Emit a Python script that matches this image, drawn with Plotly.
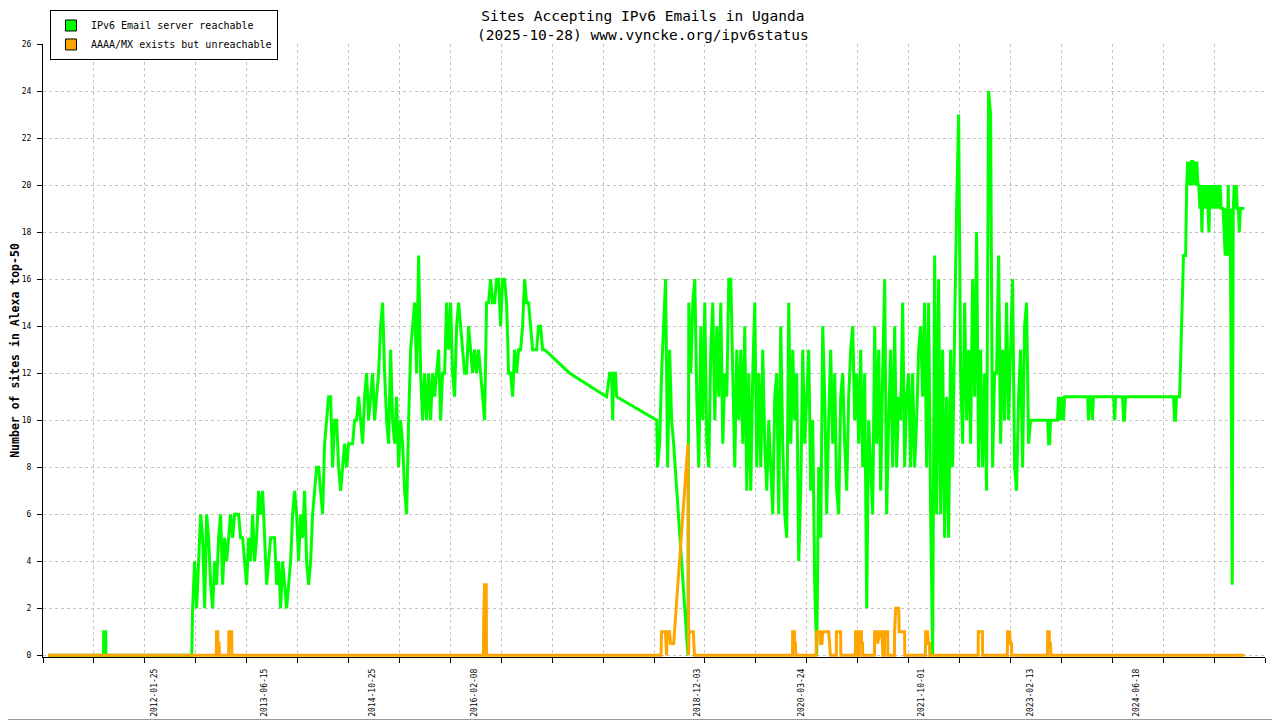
import plotly.graph_objects as go
import pandas as pd

# ---- data ----

# green: IPv6 email server reachable
green_early_dates = ["2010-09-20", "2011-06-03", "2011-06-04", "2011-06-13", "2011-06-14", "2012-07-14"]
green_early_vals = [0, 0, 1, 1, 0, 0]

# dense daily-ish samples, spread evenly over the span
green_a_span = ("2012-07-18", "2016-12-27")
green_a_vals = [
    2, 4, 2, 4, 6, 5, 2, 6, 5, 3,
    2, 4, 3, 5, 6, 3, 5, 4, 5, 6,
    5, 6, 6, 6, 5, 5, 4, 3, 5, 4,
    6, 4, 5, 7, 6, 7, 5, 3, 4, 5,
    5, 5, 3, 4, 2, 4, 3, 2, 3, 4,
    6, 7, 6, 4, 6, 5, 7, 4, 3, 4,
    6, 7, 8, 8, 7, 6, 9, 10, 11, 11,
    8, 10, 10, 8, 7, 8, 9, 8, 9, 9,
    9, 10, 10, 11, 10, 9, 11, 12, 10, 11,
    12, 10, 11, 12, 14, 15, 12, 10, 9, 13,
    10, 9, 11, 8, 10, 9, 7, 6, 10, 13,
    14, 15, 12, 17, 12, 10, 12, 10, 12, 10,
    12, 11, 12, 13, 10, 12, 12, 15, 13, 15,
    12, 11, 14, 15, 14, 13, 12, 12, 14, 13,
    12, 13, 12, 13, 12, 11, 10, 15, 15, 16,
    15, 15, 16, 16, 14, 16, 16, 15, 12, 12,
    11, 13, 12, 13, 13, 14, 16, 15, 15, 14,
    13, 13, 13, 14, 14, 13, 13,
]

green_gap_dates = ["2017-04-22", "2017-10-09", "2017-10-23", "2017-11-01", "2017-11-06",
                   "2017-11-10", "2017-11-19", "2017-11-24", "2018-05-28"]
green_gap_vals = [12, 11, 12, 12, 10, 12, 12, 11, 10]

green_b_span = ("2018-06-01", "2018-08-14")
green_b_vals = [8, 9, 12, 14, 16, 8, 13, 10, 9]

green_drop_dates = ["2018-10-19"]
green_drop_vals = [0]

green_c_span = ("2018-10-23", "2023-02-15")
green_c_vals = [
    15, 12, 15, 16, 11, 8, 14, 10, 15, 9,
    8, 13, 15, 10, 14, 11, 15, 9, 12, 11,
    16, 16, 12, 8, 13, 10, 13, 9, 14, 7,
    12, 7, 12, 15, 8, 12, 8, 13, 9, 7,
    10, 8, 6, 11, 12, 6, 14, 9, 6, 5,
    15, 9, 13, 10, 12, 4, 7, 13, 9, 11,
    13, 7, 10, 3, 0, 8, 5, 14, 11, 6,
    10, 13, 9, 12, 7, 6, 11, 12, 9, 7,
    11, 13, 14, 10, 12, 9, 13, 8, 12, 2,
    10,
    8, 6, 14, 9, 13, 7, 12, 16, 6, 10,
    13, 8, 14, 8, 11, 10, 15, 8, 11, 12,
    8, 12, 8, 10, 13, 14, 11, 15, 8, 15,
    6, 0, 17, 6, 16, 6, 13, 5, 11, 5,
    13, 8, 14, 19, 23, 12, 9, 15, 10, 13,
    9, 16, 11, 18, 8, 13, 8, 12, 7, 24,
    23, 8, 12, 12, 17, 9, 13, 10, 15, 10,
    13, 16, 8, 7, 11, 13, 8, 14, 15, 9,
    10,
]

green_late_dates = [
    "2023-02-24", "2023-05-05", "2023-05-09", "2023-05-14", "2023-05-18", "2023-06-19",
    "2023-06-24", "2023-06-29", "2023-07-03", "2023-07-08", "2023-07-12", "2023-07-17",
    "2023-07-22", "2023-11-05", "2023-11-09", "2023-11-14", "2023-11-23", "2023-11-27",
    "2023-12-02", "2024-03-04", "2024-03-09", "2024-03-13", "2024-04-14", "2024-04-19",
    "2024-04-23", "2024-04-28", "2024-12-05", "2024-12-10", "2024-12-14", "2024-12-19",
    "2025-01-02", "2025-01-07", "2025-01-11", "2025-01-16", "2025-01-20", "2025-01-30",
]
green_late_vals = [10, 10, 9, 9, 10, 10, 11, 10, 11, 10, 11, 10,
                   11, 11, 10, 11, 11, 10, 11, 11, 10, 11, 11, 10,
                   10, 11, 11, 10, 10, 11, 11, 12.5, 14, 15.5, 17, 17]

green_e_span = ("2025-02-04", "2025-10-28")
green_e_vals = [
    20, 21, 20, 21, 20, 21, 21, 20, 21, 20,
    21, 20, 20, 19, 20, 18, 20, 19, 20, 19,
    20, 19, 18, 20, 19, 20, 19, 20, 19, 20,
    19, 20, 19, 20, 19, 19, 19, 18, 17, 19,
    17, 20, 17, 19, 11, 3, 19, 20, 19, 20,
    19, 19, 18, 19, 19, 19, 19, 19,
]

# orange: AAAA/MX exists but unreachable
orange_dates = [
    "2010-09-20", "2012-11-04", "2012-11-05", "2012-11-11", "2012-11-12", "2012-11-17", "2012-11-18",
    "2012-12-31", "2013-01-01", "2013-01-14", "2013-01-15",
    "2016-03-20", "2016-03-21", "2016-03-25", "2016-04-02", "2016-04-03",
    "2018-06-17", "2018-06-19", "2018-07-08", "2018-07-12", "2018-07-17", "2018-07-26",
    "2018-07-31", "2018-08-14", "2018-08-18", "2018-10-19", "2018-10-22", "2018-10-24",
    "2018-11-13", "2018-11-18",
    "2020-02-13", "2020-02-14", "2020-02-22", "2020-02-23", "2020-02-27", "2020-02-28",
    "2020-06-01", "2020-06-03", "2020-06-17", "2020-06-21", "2020-06-28", "2020-07-01",
    "2020-07-29", "2020-08-02", "2020-08-06",
    "2020-09-02", "2020-09-03", "2020-09-22", "2020-09-23",
    "2020-11-29", "2020-11-30", "2020-12-09", "2020-12-10",
    "2020-12-17", "2020-12-18", "2020-12-27", "2020-12-28", "2021-01-01", "2021-01-02",
    "2021-02-25", "2021-02-26", "2021-03-07", "2021-03-12", "2021-03-21", "2021-03-30",
    "2021-04-03", "2021-04-05",
    "2021-04-12", "2021-04-13", "2021-04-27", "2021-04-28",
    "2021-05-28", "2021-05-29", "2021-06-03", "2021-06-17", "2021-06-19", "2021-07-14", "2021-07-15",
    "2021-10-18", "2021-10-19", "2021-10-28", "2021-11-01", "2021-11-06", "2021-11-07",
    "2022-06-18", "2022-06-19", "2022-07-08", "2022-07-09",
    "2022-10-31", "2022-11-01", "2022-11-10", "2022-11-14", "2022-11-19", "2022-11-20",
    "2023-05-04", "2023-05-05", "2023-05-12", "2023-05-13", "2023-05-18", "2023-05-19",
    "2025-10-28",
]
orange_vals = [
    0, 0, 1, 1, 0.5, 0.5, 0,
    0, 1, 1, 0,
    0, 1.5, 3, 3, 0,
    0, 1, 1, 0, 1, 1,
    0.5, 0.5, 1, 9, 0, 1,
    1, 0,
    0, 1, 1, 0.5, 0.5, 0,
    0, 1, 1, 0.5, 0.5, 1,
    1, 0.5, 0,
    0, 1, 1, 0,
    0, 1, 1, 0,
    0, 1, 1, 0.5, 0.5, 0,
    0, 1, 1, 0.5, 1, 1,
    0.5, 0,
    0, 1, 1, 0,
    0, 1, 2, 2, 1, 1, 0,
    0, 1, 1, 0.5, 0.5, 0,
    0, 1, 1, 0,
    0, 1, 1, 0.5, 0.5, 0,
    0, 1, 1, 0.5, 0.5, 0,
    0,
]

tick_label_dates = ["2012-01-25", "2013-06-15", "2014-10-25", "2016-02-08", "2018-12-03",
                    "2020-03-24", "2021-10-01", "2023-02-13", "2024-06-18"]

x_start, x_end = "2010-08-28", "2026-01-31"


def spread(span, vals):
    return list(pd.date_range(span[0], span[1], periods=len(vals)))


green_x = (list(pd.to_datetime(green_early_dates)) + spread(green_a_span, green_a_vals)
           + list(pd.to_datetime(green_gap_dates)) + spread(green_b_span, green_b_vals)
           + list(pd.to_datetime(green_drop_dates)) + spread(green_c_span, green_c_vals)
           + list(pd.to_datetime(green_late_dates)) + spread(green_e_span, green_e_vals))
green_y = (green_early_vals + green_a_vals + green_gap_vals + green_b_vals
           + green_drop_vals + green_c_vals + green_late_vals + green_e_vals)

GREEN = "#00ff00"
ORANGE = "#ffa500"
MONO = "DejaVu Sans Mono"

fig = go.Figure()

fig.add_trace(go.Scatter(x=green_x, y=green_y, mode="lines",
                         line=dict(color=GREEN, width=3, simplify=False),
                         showlegend=False))
fig.add_trace(go.Scatter(x=pd.to_datetime(orange_dates), y=orange_vals, mode="lines",
                         line=dict(color=ORANGE, width=3, simplify=False),
                         showlegend=False))

# legend swatches
for name, color in [("IPv6 Email server reachable", GREEN),
                    ("AAAA/MX exists but unreachable", ORANGE)]:
    fig.add_trace(go.Scatter(x=[None], y=[None], mode="markers", name=name,
                             marker=dict(symbol="square", size=11, color=color,
                                         line=dict(color="black", width=1))))

# invisible trace carrying the date labels on the second x axis
fig.add_trace(go.Scatter(x=[x_start], y=[None], xaxis="x2", showlegend=False, hoverinfo="skip"))

day_ms = 86400000
span_days = (pd.Timestamp(x_end) - pd.Timestamp(x_start)).days

# the page body adds an 8px offset, so margins are set 8px smaller on top/left
fig.update_layout(
    width=1280, height=720,
    paper_bgcolor="white", plot_bgcolor="white",
    margin=dict(l=35, r=23, t=36, b=71, autoexpand=False),
    font=dict(family=MONO, color="black"),
    title=dict(text="Sites Accepting IPv6 Emails in Uganda<br>(2025-10-28) www.vyncke.org/ipv6status",
               x=0.496, xanchor="center", xref="container",
               y=0.982, yanchor="top", yref="container",
               font=dict(family=MONO, size=14.5, color="black")),
    xaxis=dict(type="date", range=[x_start, x_end],
               tick0=x_start, dtick=span_days / 24 * day_ms,
               showticklabels=False, ticks="outside", ticklen=5, tickcolor="black",
               showline=True, linecolor="black", linewidth=1,
               showgrid=True, gridcolor="#c4c4c4", griddash="dot", gridwidth=1,
               zeroline=False, automargin=False),
    xaxis2=dict(type="date", range=[x_start, x_end], overlaying="x", side="bottom",
                anchor="y", tickmode="array", tickvals=tick_label_dates, ticktext=tick_label_dates,
                tickangle=-90, ticks="", showline=False, showgrid=False, zeroline=False,
                ticklabelstandoff=9, tickfont=dict(family=MONO, size=8, color="black"),
                automargin=False),
    yaxis=dict(range=[-0.07, 26], tick0=0, dtick=2,
               ticks="outside", ticklen=5, tickcolor="black",
               showline=True, linecolor="black", linewidth=1,
               showgrid=True, gridcolor="#c4c4c4", griddash="dot", gridwidth=1,
               zeroline=False, automargin=False,
               tickfont=dict(family=MONO, size=8, color="black"), ticklabelstandoff=4,
               title=dict(text="Number of sites in Alexa top-50", standoff=0,
                          font=dict(family=MONO, size=11.5, color="black", weight="bold"))),
    legend=dict(x=0.0057, y=1.0555, xanchor="left", yanchor="top",
                bgcolor="white", bordercolor="black", borderwidth=1,
                font=dict(family=MONO, size=10, color="black"),
                tracegroupgap=0, itemwidth=30),
    shapes=[dict(type="rect", xref="paper", yref="paper",
                 x0=-0.0348, x1=1.0119, y0=-0.102, y1=1.071,
                 line=dict(color="#999999", width=1), layer="below")],
)

fig.write_html("out.html")
